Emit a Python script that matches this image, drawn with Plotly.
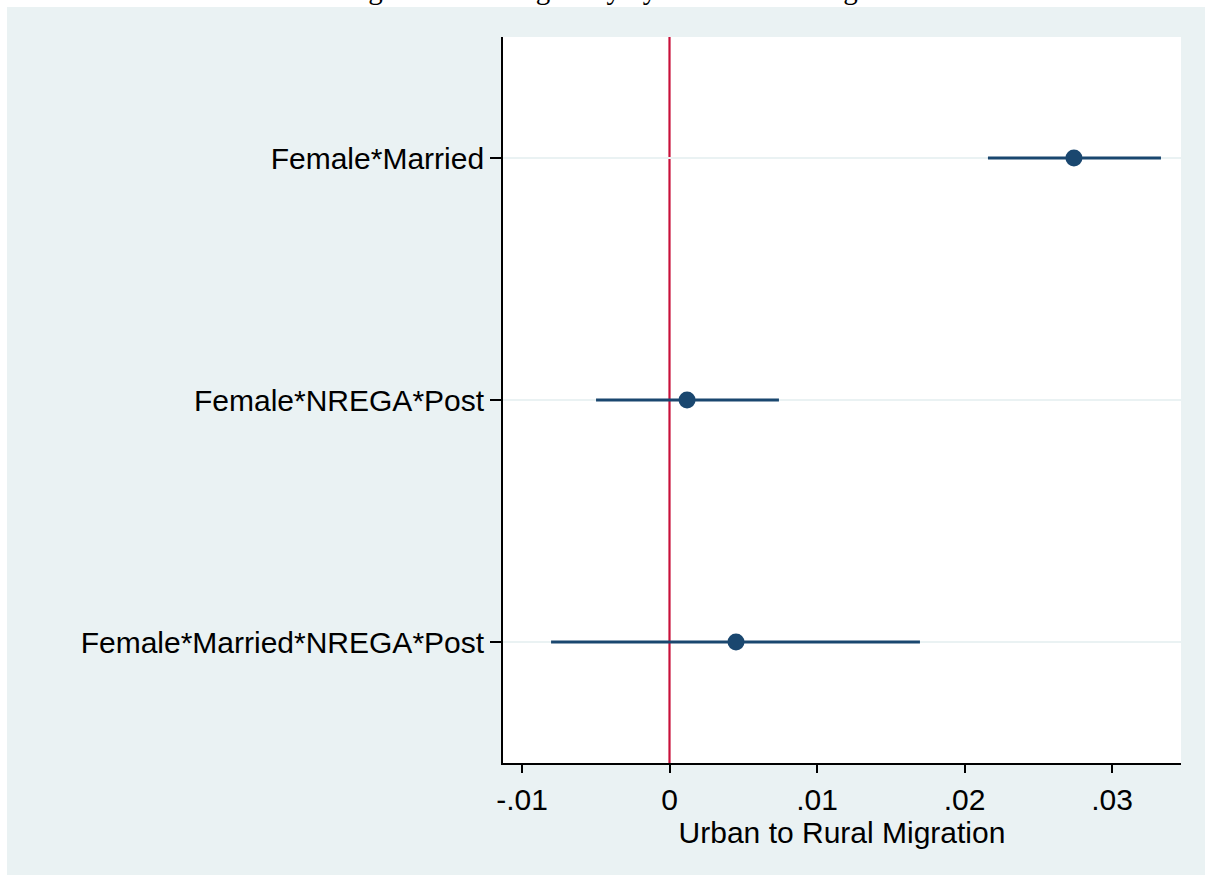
import plotly.graph_objects as go

# Data
categories = ["Female*Married", "Female*NREGA*Post", "Female*Married*NREGA*Post"]
estimates = [0.02742, 0.00119, 0.00451]
ci_low = [0.02159, -0.00498, -0.00803]
ci_high = [0.03332, 0.00742, 0.01698]
x_tick_vals = [-0.01, 0, 0.01, 0.02, 0.03]
x_tick_text = ["-.01", "0", ".01", ".02", ".03"]
title_text = "Figure 2: Heterogeneity by Sex and Marriage"
x_title = "Urban to Rural Migration"

NAVY = "#1A476F"
BG = "#EAF2F3"
RED = "#C8103A"
FONT = "Liberation Sans, Arial, Helvetica, sans-serif"

fig = go.Figure()

# CI lines
for cat, lo, hi in zip(categories, ci_low, ci_high):
    fig.add_trace(go.Scatter(
        x=[lo, hi], y=[cat, cat], mode="lines",
        line=dict(color=NAVY, width=3), showlegend=False, hoverinfo="skip"))

# point estimates
fig.add_trace(go.Scatter(
    x=estimates, y=categories, mode="markers",
    marker=dict(color=NAVY, size=17, line=dict(width=0)),
    showlegend=False))

W, H = 1205, 877
ml, mr, mt, mb = 503, 24, 37, 114
pw, ph = W - ml - mr, H - mt - mb

def px_x(p):
    return (p - ml) / pw

def px_y(p):
    return (H - mb - p) / ph

fig.update_layout(
    width=W, height=H,
    margin=dict(l=ml, r=mr, t=mt, b=mb, pad=0),
    paper_bgcolor=BG,
    plot_bgcolor="white",
    font=dict(family=FONT, size=30, color="black"),
    showlegend=False,
    xaxis=dict(
        range=[-0.011288, 0.034678],
        tickvals=x_tick_vals, ticktext=x_tick_text,
        ticks="outside", ticklen=8, tickwidth=1.5, tickcolor="black",
        showline=True, linecolor="black", linewidth=1.8,
        showgrid=False, zeroline=False,
        tickfont=dict(size=30, family=FONT),
        ticklabelstandoff=1,
        title=dict(text=x_title, font=dict(size=30, family=FONT), standoff=0),
    ),
    yaxis=dict(
        type="category",
        categoryorder="array", categoryarray=categories,
        range=[2.5, -0.5],
        ticks="outside", ticklen=11, tickwidth=1.5, tickcolor="black",
        showline=True, linecolor="black", linewidth=1.8,
        showgrid=True, gridcolor=BG, gridwidth=2,
        zeroline=False,
        tickfont=dict(size=30, family=FONT),
        ticklabelstandoff=0,
    ),
    shapes=[
        # white strips outside the graph region
        dict(type="rect", xref="paper", yref="paper",
             x0=px_x(-5), x1=px_x(W + 5), y0=px_y(7), y1=px_y(-5),
             fillcolor="white", line=dict(width=0), layer="below"),
        dict(type="rect", xref="paper", yref="paper",
             x0=px_x(-5), x1=px_x(7), y0=px_y(H + 5), y1=px_y(-5),
             fillcolor="white", line=dict(width=0), layer="below"),
        dict(type="rect", xref="paper", yref="paper",
             x0=px_x(-5), x1=px_x(W + 5), y0=px_y(H + 5), y1=px_y(875),
             fillcolor="white", line=dict(width=0), layer="below"),
        # zero reference line
        dict(type="line", xref="x", yref="paper", x0=0, x1=0, y0=0, y1=1,
             line=dict(color=RED, width=2.2), layer="between"),
    ],
    annotations=[
        dict(text=title_text, xref="paper", yref="paper",
             x=px_x(607), y=px_y(-11), xanchor="center", yanchor="middle",
             showarrow=False,
             font=dict(family="Liberation Serif, Times New Roman, serif", size=29, color="black")),
    ],
)

fig.write_html("out.html",
               config={"displayModeBar": False},
               post_script="document.body.style.margin='0px';document.body.style.padding='0px';")
